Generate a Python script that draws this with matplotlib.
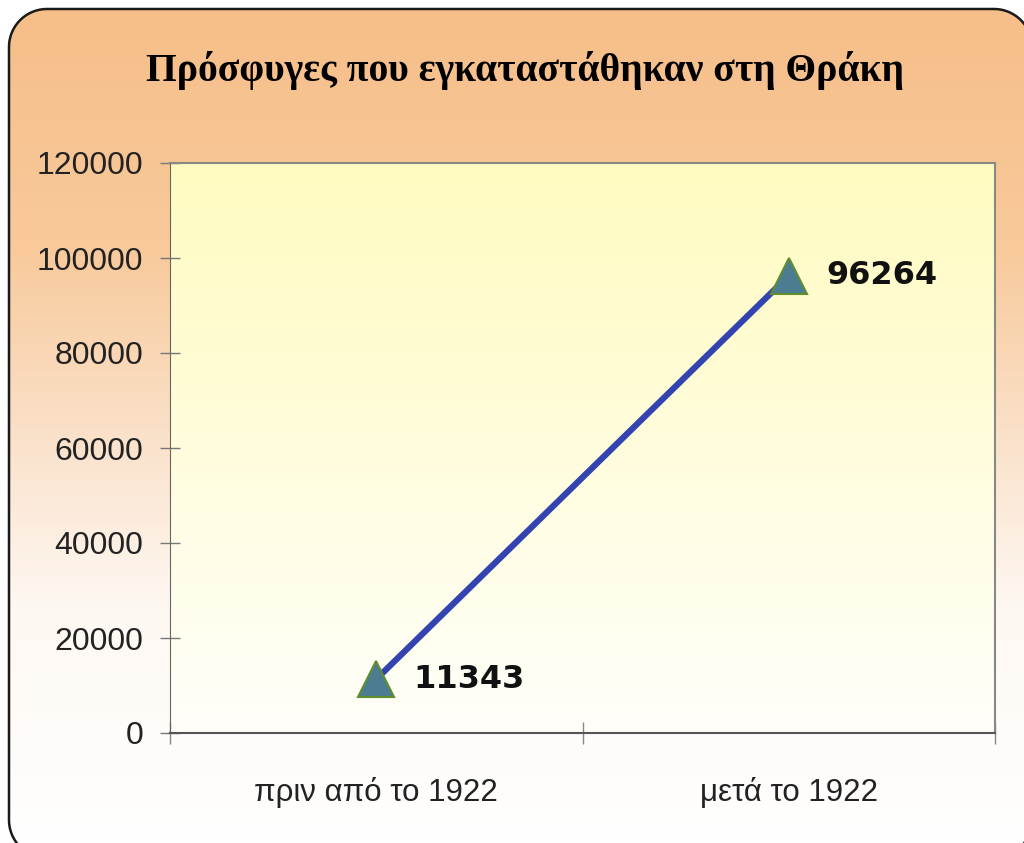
import numpy as np
import matplotlib
matplotlib.use("Agg")
import matplotlib.pyplot as plt
from matplotlib.patches import PathPatch
from matplotlib.path import Path
from matplotlib.colors import LinearSegmentedColormap

title = "Πρόσφυγες που εγκαταστάθηκαν στη Θράκη"
categories = ["πριν από το 1922", "μετά το 1922"]
values = [11343, 96264]
yticks = [0, 20000, 40000, 60000, 80000, 100000, 120000]

W, H = 1024, 843
fig = plt.figure(figsize=(W / 100, H / 100), dpi=100)
fig.patch.set_facecolor("white")


def rounded_rect(x0, y0, x1, y1, r, n=30):
    pts = []
    corners = [(x1 - r, y1 - r, 0), (x0 + r, y1 - r, 90), (x0 + r, y0 + r, 180), (x1 - r, y0 + r, 270)]
    for cx, cy, a0 in corners:
        t = np.radians(np.linspace(a0, a0 + 90, n))
        pts.extend(zip(cx + r * np.cos(t), cy + r * np.sin(t)))
    pts.append(pts[0])
    return Path(pts, closed=True)


# background panel with gradient (pixel coordinates, y upward)
bg = fig.add_axes([0, 0, 1, 1])
bg.set_xlim(0, W)
bg.set_ylim(0, H)
bg.axis("off")
cmap_bg = LinearSegmentedColormap.from_list(
    "bg", [(0, "#F6BE88"), (0.3, "#F8CA9C"), (0.5, "#FADFC6"), (0.72, "#FEF8F2"), (1.0, "#FFFFFF")])
grad = np.linspace(0, 1, 256).reshape(-1, 1)
im = bg.imshow(grad, cmap=cmap_bg, extent=[0, W, 0, H], origin="upper", aspect="auto", zorder=0)
left, top, right, bottom = 9, 9, 1032, 858
path = rounded_rect(left, H - bottom, right, H - top, 38)
panel = PathPatch(path, fc="none", ec="#1a1a1a", lw=1.8, zorder=2)
bg.add_patch(panel)
clip = PathPatch(path, fc="none", ec="none", transform=bg.transData)
im.set_clip_path(clip)

fig.text(525 / W, 1 - 70 / H, title, ha="center", va="center",
         fontsize=28.5, fontweight="bold", family=["Liberation Serif", "DejaVu Serif"])

ax = fig.add_axes([170 / W, 1 - 733 / H, (995 - 170) / W, (733 - 163) / H])
ax.set_facecolor("none")
# plot-area gradient: light yellow at top to near white at bottom
cmap_pa = LinearSegmentedColormap.from_list("pa", [(0, "#FFFBC0"), (0.55, "#FFFDE0"), (1, "#FFFFFA")])
ax.imshow(grad, cmap=cmap_pa, extent=[-0.5, 1.5, 0, 120000], origin="upper",
          aspect="auto", zorder=0)

x = np.arange(len(categories))
ax.plot(x, values, color="#3344B0", lw=4.5, zorder=3, solid_capstyle="butt")
ax.plot(x, values, ls="none", marker="^", markersize=26, markerfacecolor="#4C7C92",
        markeredgecolor="#5E8E2E", markeredgewidth=1.5, zorder=4)
for xi, v in zip(x, values):
    ax.annotate(f"{v}", (xi, v), xytext=(27, 0), textcoords="offset points",
                ha="left", va="center", fontsize=23, fontweight="bold",
                family=["DejaVu Sans"], color="#111111", zorder=5)

ax.set_xlim(-0.5, 1.5)
ax.set_ylim(0, 120000)
ax.set_yticks(yticks)
ax.set_yticklabels([str(t) for t in yticks], fontsize=23,
                   family=["Liberation Sans"], color="#222222")
ax.set_xticks([-0.5, 0.5, 1.5])
ax.set_xticklabels([])
ax.set_xticks(x, minor=True)
ax.set_xticklabels(categories, minor=True, fontsize=22.5,
                   family=["Liberation Sans"], color="#222222")
ax.tick_params(axis="x", which="minor", length=0, pad=32)
ax.tick_params(axis="x", which="major", direction="inout", length=16, width=1, color="#888888")
ax.tick_params(axis="y", direction="inout", length=14, width=1, color="#777777", pad=12)
for s in ["top", "right"]:
    ax.spines[s].set_color("#888888")
    ax.spines[s].set_linewidth(1.5)
ax.spines["left"].set_color("#666666")
ax.spines["bottom"].set_color("#555555")
ax.spines["bottom"].set_linewidth(1.5)

fig.savefig("out.png", dpi=100)
